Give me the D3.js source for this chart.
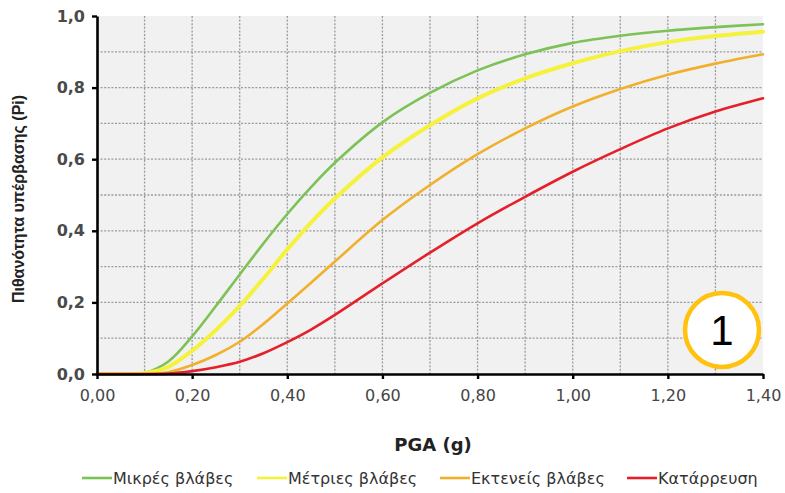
<!DOCTYPE html>
<html>
<head>
<meta charset="utf-8">
<script src="https://cdn.jsdelivr.net/npm/d3@7"></script>
<style>
  html, body { margin: 0; padding: 0; background: #ffffff; }
  svg { display: block; }
</style>
</head>
<body>
<svg id="chart" width="785" height="493"></svg>
<script>
// PGA values (g) at which each fragility curve is sampled
const pga = [0, 0.05, 0.10, 0.15, 0.20, 0.25, 0.30, 0.35, 0.40, 0.45, 0.50,
             0.60, 0.70, 0.80, 0.90, 1.00, 1.10, 1.20, 1.30, 1.40];

// Probability of exceedance per damage state
const minorDamage    = [0, 0, 0.003, 0.035, 0.105, 0.19, 0.278, 0.365, 0.447, 0.522, 0.59,
                        0.703, 0.785, 0.848, 0.893, 0.925, 0.945, 0.959, 0.969, 0.977];
const moderateDamage = [0, 0, 0.002, 0.02, 0.065, 0.123, 0.19, 0.267, 0.348, 0.423, 0.49,
                        0.605, 0.695, 0.77, 0.826, 0.868, 0.902, 0.927, 0.944, 0.956];
const extensiveDamage = [0, 0, 0, 0.005, 0.025, 0.053, 0.09, 0.14, 0.197, 0.255, 0.314,
                        0.43, 0.528, 0.614, 0.686, 0.747, 0.796, 0.836, 0.867, 0.893];
const collapse       = [0, 0, 0, 0.001, 0.008, 0.019, 0.034, 0.058, 0.089, 0.124, 0.165,
                        0.253, 0.339, 0.421, 0.495, 0.565, 0.628, 0.686, 0.733, 0.77];

const seriesNames = ["Μικρές βλάβες", "Μέτριες βλάβες", "Εκτενείς βλάβες", "Κατάρρευση"];
const seriesValues = [minorDamage, moderateDamage, extensiveDamage, collapse];
const seriesColors = ["#7dc257", "#f4f23c", "#f0b02c", "#e4202a"];
const seriesWidths = [2.6, 4, 2.6, 2.6];

const xTicks = [0, 0.2, 0.4, 0.6, 0.8, 1.0, 1.2, 1.4];
const yTicks = [0, 0.2, 0.4, 0.6, 0.8, 1.0];
const xGrid = d3.range(1, 14).map(i => i / 10);
const yGrid = d3.range(1, 10).map(i => i / 10);

const xTitle = "PGA (g)";
const yTitle = "Πιθανότητα υπέρβασης (Pi)";
const badgeLabel = "1";

const svg = d3.select("#chart");
const plot = { left: 97, top: 16, right: 763, bottom: 374 };

const x = d3.scaleLinear().domain([0, 1.4]).range([plot.left, plot.right]);
const y = d3.scaleLinear().domain([0, 1]).range([plot.bottom, plot.top]);

const fmt2 = d => d3.format(".2f")(d).replace(".", ",");
const fmt1 = d => d3.format(".1f")(d).replace(".", ",");

// plot background
svg.append("rect")
  .attr("x", plot.left).attr("y", plot.top)
  .attr("width", plot.right - plot.left).attr("height", plot.bottom - plot.top)
  .attr("fill", "#f1f1f1");

// dotted grid
const grid = svg.append("g")
  .attr("stroke", "#9a9a9a").attr("stroke-width", 1.3)
  .attr("stroke-dasharray", "2,1.6");
grid.selectAll("line.v").data(xGrid).join("line").attr("class", "v")
  .attr("x1", d => x(d)).attr("x2", d => x(d))
  .attr("y1", plot.top).attr("y2", plot.bottom);
grid.selectAll("line.h").data(yGrid).join("line").attr("class", "h")
  .attr("x1", plot.left).attr("x2", plot.right)
  .attr("y1", d => y(d)).attr("y2", d => y(d));

// curves
const line = d3.line().curve(d3.curveCatmullRom.alpha(0.5))
  .x(d => x(d[0])).y(d => y(Math.max(0, d[1])));
seriesValues.forEach((vals, i) => {
  svg.append("path")
    .datum(pga.map((p, j) => [p, vals[j]]))
    .attr("fill", "none")
    .attr("stroke", seriesColors[i])
    .attr("stroke-width", seriesWidths[i])
    .attr("stroke-linecap", "round")
    .attr("stroke-linejoin", "round")
    .attr("d", line);
});

// axes
const xAxis = svg.append("g")
  .attr("transform", `translate(0,${plot.bottom})`)
  .call(d3.axisBottom(x).tickValues(xTicks).tickFormat(fmt2).tickSize(5).tickSizeOuter(0));
const yAxis = svg.append("g")
  .attr("transform", `translate(${plot.left},0)`)
  .call(d3.axisLeft(y).tickValues(yTicks).tickFormat(fmt1).tickSize(5).tickSizeOuter(0));

[xAxis, yAxis].forEach(ax => {
  ax.select(".domain").attr("stroke", "#000").attr("stroke-width", 2.6);
  ax.selectAll(".tick line").attr("stroke", "#000").attr("stroke-width", 2.4);
});
xAxis.selectAll(".tick text")
  .attr("font-family", "DejaVu Sans, sans-serif").attr("font-size", 16)
  .attr("fill", "#454545").attr("dy", "1.2em");
yAxis.selectAll(".tick text")
  .attr("font-family", "DejaVu Sans, sans-serif").attr("font-size", 16)
  .attr("font-weight", "bold").attr("fill", "#4a4a4a").attr("dx", "-0.25em");

// axis titles
svg.append("text")
  .attr("x", (plot.left + plot.right) / 2 + 3).attr("y", 451)
  .attr("text-anchor", "middle")
  .attr("font-family", "DejaVu Sans, sans-serif").attr("font-size", 18)
  .attr("font-weight", "bold").attr("fill", "#222")
  .text(xTitle);
svg.append("text")
  .attr("transform", `translate(24,199) rotate(-90)`)
  .attr("text-anchor", "middle")
  .attr("font-family", "Liberation Sans, Arial, sans-serif").attr("font-size", 16)
  .attr("font-weight", "bold").attr("fill", "#222")
  .text(yTitle);

// legend
const legendX = [82, 257, 440, 627];
const legend = svg.append("g");
seriesNames.forEach((name, i) => {
  const g = legend.append("g").attr("transform", `translate(${legendX[i]},478)`);
  g.append("line").attr("x1", 0).attr("x2", 30).attr("y1", 0).attr("y2", 0)
    .attr("stroke", seriesColors[i]).attr("stroke-width", 2.6);
  g.append("text").attr("x", 31).attr("y", 0).attr("dy", "0.35em")
    .attr("font-family", "DejaVu Sans, sans-serif").attr("font-size", 16)
    .attr("fill", "#333").text(name);
});

// numbered badge
const badge = svg.append("g").attr("transform", "translate(722,330)");
badge.append("circle").attr("r", 37)
  .attr("fill", "#ffffff").attr("stroke", "#ffc20e").attr("stroke-width", 4.5);
badge.append("text").attr("text-anchor", "middle").attr("dy", "0.36em")
  .attr("font-family", "Liberation Sans, Arial, sans-serif").attr("font-size", 42)
  .attr("fill", "#000").text(badgeLabel);
</script>
</body>
</html>
